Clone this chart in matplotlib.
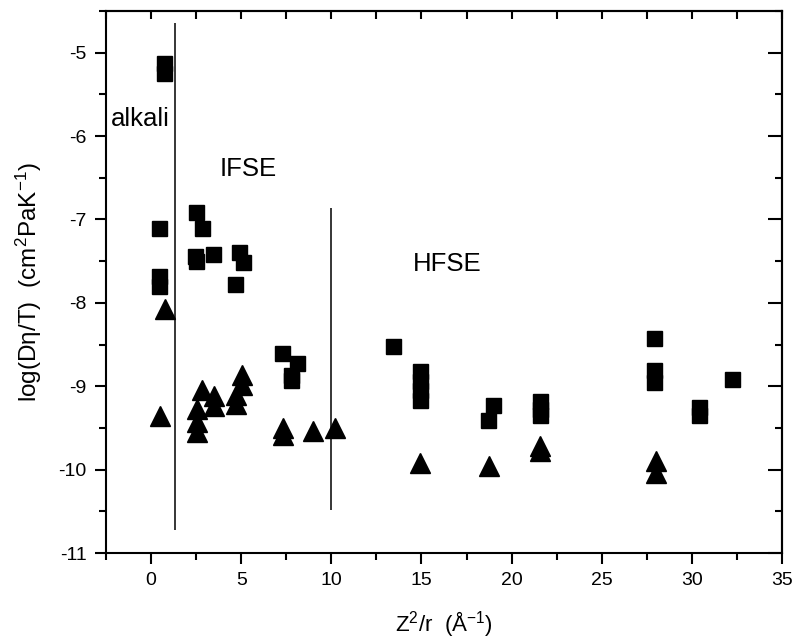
import numpy as np
import matplotlib.pyplot as plt
from matplotlib.ticker import MultipleLocator

plt.rcParams['font.family'] = ['Liberation Sans', 'DejaVu Sans']
plt.rcParams['mathtext.fontset'] = 'custom'
plt.rcParams['mathtext.rm'] = 'Liberation Sans'
plt.rcParams['mathtext.it'] = 'Liberation Sans'
plt.rcParams['axes.unicode_minus'] = False

# squares
sq_x = [0.7, 0.7, 0.45, 0.45, 0.45, 2.5, 2.85, 2.45, 2.5, 3.45, 4.9, 5.1, 4.65,
        7.25, 8.1, 7.75, 7.75,
        13.4, 14.9, 14.9, 14.9, 14.9, 18.95, 18.7, 21.6, 21.6, 21.6,
        27.9, 27.9, 27.9, 30.4, 30.4, 32.2]
sq_y = [-5.12, -5.24, -7.10, -7.68, -7.80, -6.91, -7.10, -7.44, -7.50, -7.41, -7.39, -7.51, -7.77,
        -8.60, -8.72, -8.86, -8.93,
        -8.52, -8.82, -8.94, -9.05, -9.17, -9.22, -9.41, -9.18, -9.27, -9.35,
        -8.42, -8.80, -8.95, -9.25, -9.34, -8.91]

# triangles
tri_x = [0.78, 0.5, 2.8, 3.5, 3.5, 2.55, 2.55, 2.55, 4.7, 4.7, 5.05, 5.05,
         7.3, 7.3, 9.0, 10.2,
         14.9, 18.75, 21.6, 21.6, 28.0, 28.0]
tri_y = [-8.07, -9.36, -9.05, -9.12, -9.24, -9.27, -9.43, -9.55, -9.11, -9.21, -8.87, -8.99,
         -9.50, -9.58, -9.54, -9.50,
         -9.92, -9.96, -9.72, -9.78, -9.90, -10.04]

# separator lines: x, ymin, ymax
sep_x = [1.34, 10.0]
sep_lo = [-10.72, -10.48]
sep_hi = [-4.65, -6.86]

fig = plt.figure(figsize=(8, 6.38), dpi=100)
ax = fig.add_axes([0.1325, 0.1332, 0.845, 0.8496])

ax.plot(sq_x, sq_y, 'ks', ms=10.8, linestyle='none')
ax.plot(tri_x, tri_y, 'k^', ms=14, linestyle='none')
ax.vlines(sep_x, sep_lo, sep_hi, colors='k', linewidth=1.1)

ax.text(-2.25, -5.79, 'alkali', fontsize=18.5, va='center', ha='left')
ax.text(3.8, -6.39, 'IFSE', fontsize=18.5, va='center', ha='left')
ax.text(14.5, -7.53, 'HFSE', fontsize=18.5, va='center', ha='left')

ax.set_xlim(-2.5, 35)
ax.set_ylim(-11, -4.5)
ax.xaxis.set_major_locator(MultipleLocator(5))
ax.xaxis.set_minor_locator(MultipleLocator(2.5))
ax.yaxis.set_major_locator(MultipleLocator(1))
ax.yaxis.set_minor_locator(MultipleLocator(0.5))
ax.set_yticks([-5, -6, -7, -8, -9, -10, -11])

# left/bottom ticks point out
ax.tick_params(which='both', direction='out', labelsize=14, width=1.5, pad=6)
ax.tick_params(which='major', length=8)
ax.tick_params(which='minor', length=5)

# top/right ticks point in, drawn with twin axes so direction can differ
axt = ax.secondary_xaxis('top')
axt.xaxis.set_major_locator(MultipleLocator(5))
axt.xaxis.set_minor_locator(MultipleLocator(2.5))
axt.tick_params(which='both', direction='in', length=6, width=1.5, labeltop=False)
axr = ax.secondary_yaxis('right')
axr.yaxis.set_major_locator(MultipleLocator(1))
axr.yaxis.set_minor_locator(MultipleLocator(0.5))
axr.tick_params(which='major', direction='in', length=10, width=1.5, labelright=False)
axr.tick_params(which='minor', direction='in', length=5, width=1.5)

for spine in ax.spines.values():
    spine.set_linewidth(1.5)
axt.spines['top'].set_linewidth(1.5)
axr.spines['right'].set_linewidth(1.5)

ax.set_xlabel(r'Z$^2$/r  ($\mathrm{\AA}^{-1}$)', fontsize=16, labelpad=14)
ax.set_ylabel(r'log(D$\eta$/T)  (cm$^2$PaK$^{-1}$)', fontsize=17.5, labelpad=10)

fig.savefig('out.png', dpi=100)
